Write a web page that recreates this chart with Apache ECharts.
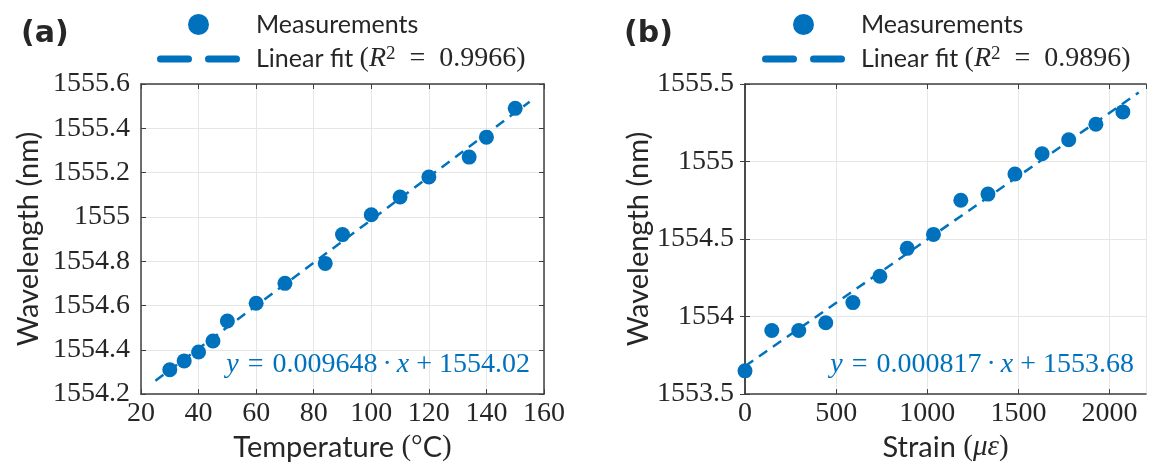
<!DOCTYPE html>
<html>
<head>
<meta charset="utf-8">
<script src="https://cdn.jsdelivr.net/npm/echarts@6/dist/echarts.min.js"></script>
<style>
  html, body { margin: 0; padding: 0; background: #fff; }
  #chart { width: 1151px; height: 467px; }
</style>
</head>
<body>
<div id="chart"></div>
<script>
// (a) temperature sweep
const tempA = [30, 35, 40, 45, 50, 60, 70, 84, 90, 100, 110, 120, 134, 140, 150];
const wlA = [1554.31, 1554.35, 1554.39, 1554.44, 1554.53, 1554.61, 1554.70, 1554.79, 1554.92, 1555.01, 1555.09, 1555.18, 1555.27, 1555.36, 1555.49];
const fitAx = [25, 155];
const fitAy = [1554.26, 1555.52];
const r2A = '0.9966';
const eqA = ['0.009648', '1554.02'];

// (b) strain sweep
const strainB = [0, 147, 295, 443, 592, 740, 890, 1034, 1184, 1333, 1481, 1630, 1776, 1925, 2073];
const wlB = [1553.65, 1553.91, 1553.91, 1553.96, 1554.09, 1554.26, 1554.44, 1554.53, 1554.75, 1554.79, 1554.92, 1555.05, 1555.14, 1555.24, 1555.32];
const fitBx = [0, 2160];
const fitBy = [1553.68, 1555.445];
const r2B = '0.9896';
const eqB = ['0.000817', '1553.68'];

const BLUE = '#0072BD';
const INK = '#262626';
const FRAME = '#404040';
const SANS = 'Lato';
const SERIF = 'Liberation Serif';

// two rounded dashes for the fit entry of the legend
const DASH_ICON = 'path://M3.5,0H31.5A3.5,3.5 0 0 1 31.5,7H3.5A3.5,3.5 0 0 1 3.5,0Z' +
    'M51.5,0H79.5A3.5,3.5 0 0 1 79.5,7H51.5A3.5,3.5 0 0 1 51.5,0Z';

const rich = {
    sf: { fontFamily: SANS, fontSize: 25 },
    lab: { fontFamily: SANS, fontSize: 29 },
    labm: { fontFamily: SERIF, fontSize: 29 },
    labi: { fontFamily: SERIF, fontSize: 29, fontStyle: 'italic' },
    rm: { fontFamily: SERIF, fontSize: 28 },
    it: { fontFamily: SERIF, fontSize: 28, fontStyle: 'italic' },
    rel: { fontFamily: SERIF, fontSize: 28, padding: [0, 9, 0, 9] },
    lrel: { fontFamily: SERIF, fontSize: 28, padding: [0, 14, 0, 14] },
    bin: { fontFamily: SERIF, fontSize: 28, padding: [0, 7, 0, 7] },
    dot: { fontFamily: SERIF, fontSize: 28, padding: [0, 5, 0, 5] },
    sup: { fontFamily: SERIF, fontSize: 19, verticalAlign: 'top' }
};

const tickFmt = v => String(parseFloat(v.toFixed(2)));

const chart = echarts.init(document.getElementById('chart'));

// bottom/left axes carry labels, top/right ones only close the box
function mainX(gridIndex, min, max, interval, name, gap) {
    return {
        type: 'value', gridIndex, min, max, interval, position: 'bottom',
        name, nameLocation: 'middle', nameGap: gap,
        nameTextStyle: { color: INK, rich },
        axisLine: { lineStyle: { color: FRAME, width: 1.5 } },
        axisTick: { inside: true, length: 5, lineStyle: { color: FRAME } },
        axisLabel: { color: INK, fontFamily: SERIF, fontSize: 28, margin: 6, formatter: tickFmt },
        splitLine: { show: true, lineStyle: { color: '#e6e6e6', width: 1 } }
    };
}
function mainY(gridIndex, min, max, interval, gap) {
    return {
        type: 'value', gridIndex, min, max, interval, position: 'left',
        name: 'Wavelength (nm)', nameLocation: 'middle', nameGap: gap,
        nameTextStyle: { color: INK, fontFamily: SANS, fontSize: 29 },
        axisLine: { show: true, lineStyle: { color: FRAME, width: 1.5 } },
        axisTick: { show: true, inside: true, length: 5, lineStyle: { color: FRAME } },
        axisLabel: { color: INK, fontFamily: SERIF, fontSize: 28, margin: 11, formatter: tickFmt },
        splitLine: { show: true, lineStyle: { color: '#e6e6e6', width: 1 } }
    };
}
function boxAxis(gridIndex, min, max, interval, position) {
    return {
        type: 'value', gridIndex, min, max, interval, position,
        axisLine: { show: true, lineStyle: { color: FRAME, width: 1.5 } },
        axisTick: { show: true, inside: true, length: 5, lineStyle: { color: FRAME } },
        axisLabel: { show: false },
        splitLine: { show: false }
    };
}

function legendFor(left, fitName, r2) {
    return {
        data: ['Measurements', { name: fitName, icon: DASH_ICON }],
        orient: 'vertical', left, top: 12, padding: 0,
        itemWidth: 83, itemHeight: 21, itemGap: 8,
        selectedMode: false,
        formatter: name => name === 'Measurements'
            ? '{sf|Measurements}'
            : '{sf|Linear fit }{rm|(}{it|R}{sup|2}{lrel|=}{rm|' + r2 + ')}',
        textStyle: { color: INK, padding: [0, 0, 0, 11], rich }
    };
}

function eqText(x, coef) {
    return {
        type: 'text', x, y: 365,
        style: {
            text: '{it|y}{rel|=}{rm|' + coef[0] + '}{dot|·}{it|x}{bin|+}{rm|' + coef[1] + '}',
            rich, fill: BLUE, align: 'right', verticalAlign: 'middle'
        },
        z: 10
    };
}

const option = {
    backgroundColor: '#fff',
    animation: false,
    title: [
        { text: '(a)', left: 21, top: 19, padding: 0, textStyle: { fontFamily: 'DejaVu Sans', fontWeight: 'bold', fontSize: 30, color: INK } },
        { text: '(b)', left: 624, top: 19, padding: 0, textStyle: { fontFamily: 'DejaVu Sans', fontWeight: 'bold', fontSize: 30, color: INK } }
    ],
    legend: [legendFor(157, 'fitA', r2A), legendFor(762, 'fitB', r2B)],
    grid: [
        { left: 141, top: 84, width: 403, height: 313 },
        { left: 745, top: 84, width: 401, height: 313 }
    ],
    xAxis: [
        mainX(0, 20, 160, 20, '{lab|Temperature }{labm|(°}{lab|C}{labm|)}', 35),
        boxAxis(0, 20, 160, 20, 'top'),
        mainX(1, 0, 2200, 500, '{lab|Strain }{labm|(}{labi|με}{labm|)}', 35),
        boxAxis(1, 0, 2200, 500, 'top')
    ],
    yAxis: [
        mainY(0, 1554.2, 1555.6, 0.2, 98),
        boxAxis(0, 1554.2, 1555.6, 0.2, 'right'),
        mainY(1, 1553.5, 1555.5, 0.5, 90),
        boxAxis(1, 1553.5, 1555.5, 0.5, 'right')
    ],
    series: [
        {
            name: 'fitA', type: 'line', xAxisIndex: 0, yAxisIndex: 0,
            data: fitAx.map((x, i) => [x, fitAy[i]]),
            symbol: 'none', color: BLUE, z: 2,
            lineStyle: { color: BLUE, width: 2.5, type: [10, 7] }
        },
        {
            name: 'Measurements', type: 'scatter', xAxisIndex: 0, yAxisIndex: 0,
            data: tempA.map((x, i) => [x, wlA[i]]),
            symbol: 'circle', symbolSize: 15, itemStyle: { color: BLUE, opacity: 1 }, z: 3
        },
        {
            name: 'fitB', type: 'line', xAxisIndex: 2, yAxisIndex: 2,
            data: fitBx.map((x, i) => [x, fitBy[i]]),
            symbol: 'none', color: BLUE, z: 2,
            lineStyle: { color: BLUE, width: 2.5, type: [10, 7] }
        },
        {
            name: 'Measurements', type: 'scatter', xAxisIndex: 2, yAxisIndex: 2,
            data: strainB.map((x, i) => [x, wlB[i]]),
            symbol: 'circle', symbolSize: 15, itemStyle: { color: BLUE, opacity: 1 }, z: 3
        }
    ],
    graphic: [eqText(530, eqA), eqText(1134, eqB)]
};
option.xAxis[2].axisLabel.showMaxLabel = false;

chart.setOption(option);
</script>
</body>
</html>
